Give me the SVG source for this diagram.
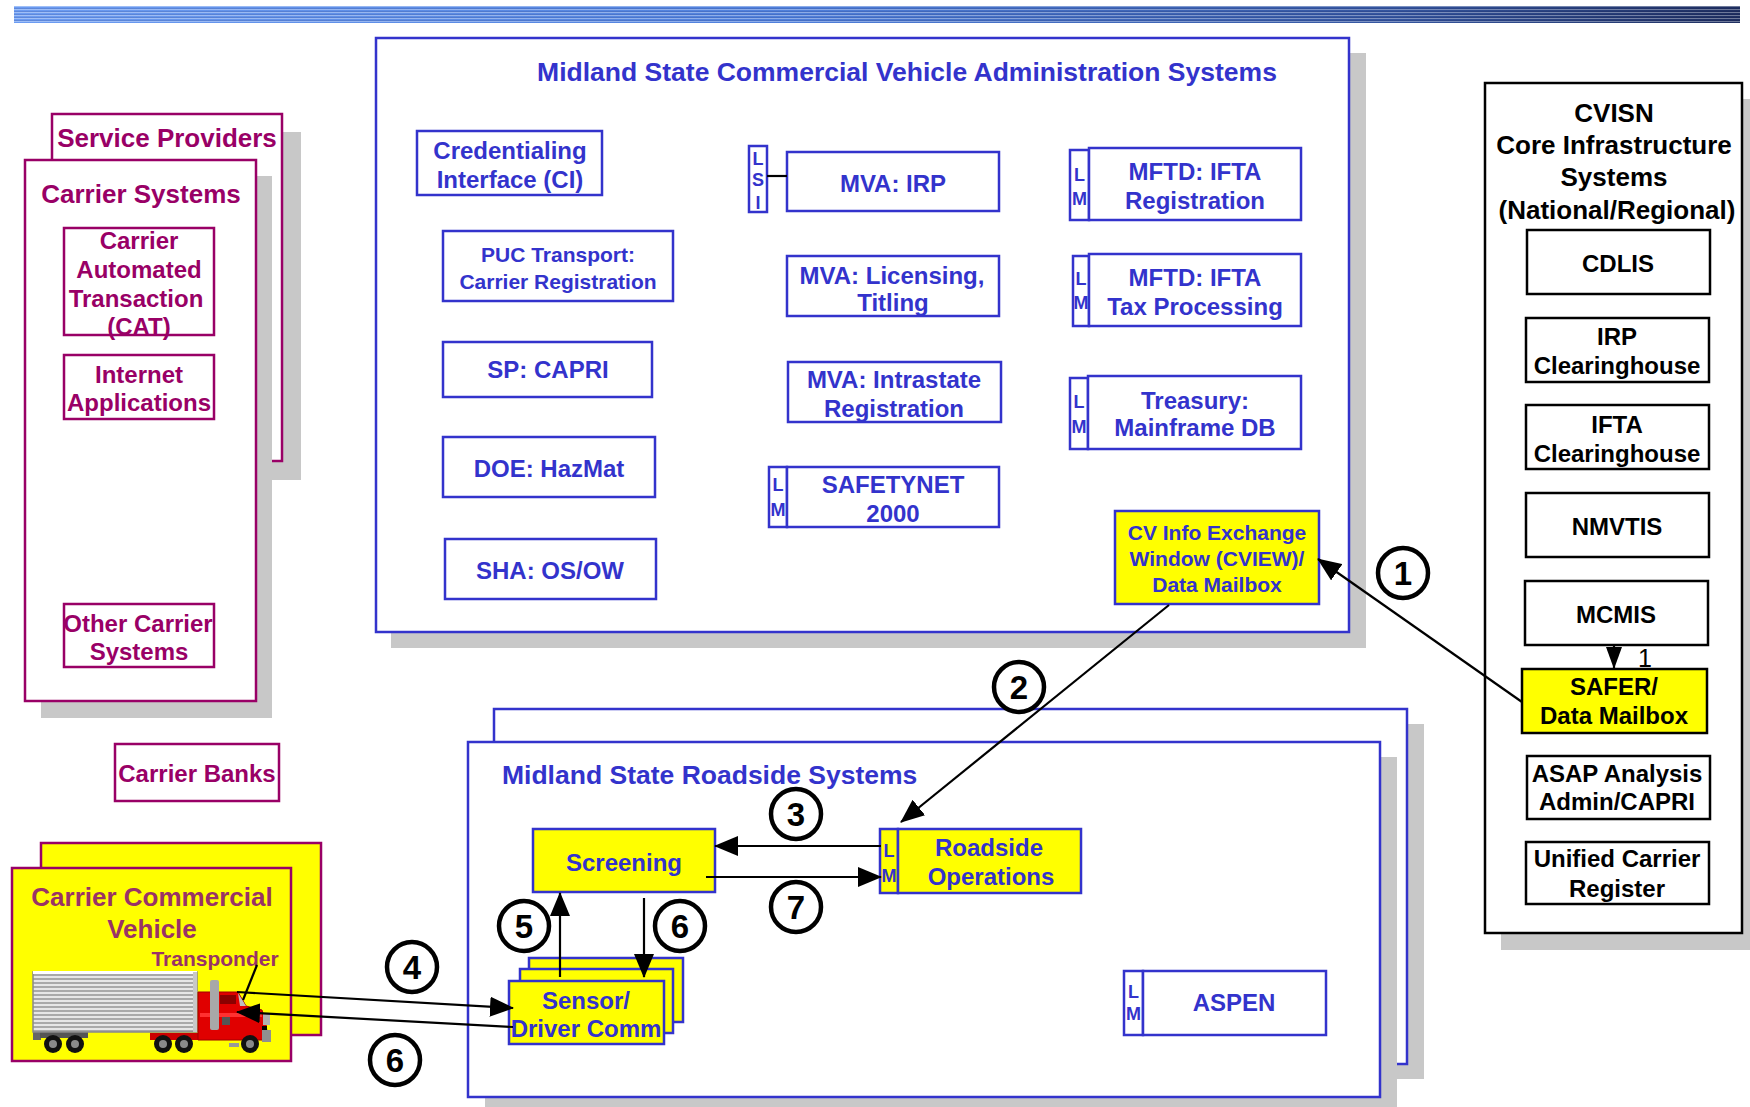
<svg xmlns="http://www.w3.org/2000/svg" width="1750" height="1107" viewBox="0 0 1750 1107">
  <defs>
    <linearGradient id="barGrad" x1="0" y1="0" x2="1" y2="0">
      <stop offset="0" stop-color="#6c9cf2"/>
      <stop offset="0.45" stop-color="#4f7fdb"/>
      <stop offset="0.8" stop-color="#34559f"/>
      <stop offset="1" stop-color="#1f2f60"/>
    </linearGradient>
    <pattern id="barStripes" width="8" height="3" patternUnits="userSpaceOnUse">
      <rect width="8" height="1" fill="#ffffff" fill-opacity="0.35"/>
      <rect y="2" width="8" height="1" fill="#000030" fill-opacity="0.12"/>
    </pattern>
    <pattern id="trailerStripes" width="10" height="4" patternUnits="userSpaceOnUse">
      <rect width="10" height="2" fill="#e6e6e6"/>
      <rect y="2" width="10" height="2" fill="#a9a9a9"/>
    </pattern>
    <marker id="arrow" viewBox="0 0 24 20" refX="23" refY="10" markerWidth="24" markerHeight="20" markerUnits="userSpaceOnUse" orient="auto">
      <path d="M0,0 L24,10 L0,20 z" fill="#000"/>
    </marker>
    <marker id="arrowSmall" viewBox="0 0 22 16" refX="21" refY="8" markerWidth="22" markerHeight="16" markerUnits="userSpaceOnUse" orient="auto">
      <path d="M0,0 L22,8 L0,16 z" fill="#000"/>
    </marker>
  </defs>
  <style>
    text { font-family: "Liberation Sans", Arial, sans-serif; font-weight: bold; }
    .shadow { fill: #c8c8c8; }
    .bbox { fill: #ffffff; stroke: #3333cc; stroke-width: 2.5; }
    .ybox { fill: #ffff00; stroke: #3333cc; stroke-width: 2.5; }
    .mbox { fill: #ffffff; stroke: #990066; stroke-width: 2.5; }
    .mybox { fill: #ffff00; stroke: #990066; stroke-width: 2.5; }
    .kbox { fill: #ffffff; stroke: #000000; stroke-width: 2.5; }
    .kybox { fill: #ffff00; stroke: #000000; stroke-width: 2.5; }
    .bt { font-size: 24px; fill: #3333cc; text-anchor: middle; }
    .bt21 { font-size: 21px; fill: #3333cc; text-anchor: middle; }
    .btitle { font-size: 26.5px; fill: #3333cc; }
    .mt { font-size: 24px; fill: #990066; text-anchor: middle; }
    .mtitle { font-size: 26px; fill: #990066; text-anchor: middle; }
    .vt { fill: #993366; }
    .kt { font-size: 24px; fill: #000000; text-anchor: middle; }
    .ktitle { font-size: 26px; fill: #000000; text-anchor: middle; }
    .lm { font-size: 18px; fill: #3333cc; text-anchor: middle; }
    .num { font-size: 33px; fill: #000000; text-anchor: middle; }
    .ring { fill: #ffffff; stroke: #000000; stroke-width: 4.5; }
    .conn { fill: none; stroke: #000000; stroke-width: 2.2; }
  </style>

  <!-- header bar -->
  <rect x="14" y="6" width="1726" height="17" fill="url(#barGrad)"/>
  <rect x="14" y="6" width="1726" height="17" fill="url(#barStripes)"/>

  <!-- State administration systems -->
  <g id="admin-systems">
    <rect class="shadow" x="391" y="53" width="975" height="595"/>
    <rect class="bbox" x="376" y="38" width="973" height="594"/>
    <text class="btitle" x="907" y="81" text-anchor="middle">Midland State Commercial Vehicle Administration Systems</text>
  </g>
  <g id="credentialing-interface">
    <rect class="bbox" x="417" y="131" width="185" height="64"/>
    <text class="bt" x="510" y="158.5">Credentialing</text>
    <text class="bt" x="510" y="187.5">Interface (CI)</text>
  </g>
  <g id="puc-transport">
    <rect class="bbox" x="443" y="231" width="230" height="70"/>
    <text class="bt21" x="558" y="261.5">PUC Transport:</text>
    <text class="bt21" x="558" y="288.5">Carrier Registration</text>
  </g>
  <g id="sp-capri">
    <rect class="bbox" x="443" y="342" width="209" height="55"/>
    <text class="bt" x="548" y="377.5">SP: CAPRI</text>
  </g>
  <g id="doe-hazmat">
    <rect class="bbox" x="443" y="437" width="212" height="60"/>
    <text class="bt" x="549" y="476.5">DOE: HazMat</text>
  </g>
  <g id="sha-osow">
    <rect class="bbox" x="445" y="539" width="211" height="60"/>
    <text class="bt" x="550" y="578.5">SHA: OS/OW</text>
  </g>
  <g id="lsi">
    <rect class="bbox" x="749" y="146" width="18" height="66"/>
    <text class="lm" x="758" y="165">L</text>
    <text class="lm" x="758" y="186">S</text>
    <text class="lm" x="758" y="209">I</text>
  </g>
  <g id="mva-irp">
    <rect class="bbox" x="787" y="152" width="212" height="59"/>
    <text class="bt" x="893" y="191.5">MVA: IRP</text>
  </g>
  <g id="mva-licensing">
    <rect class="bbox" x="787" y="256" width="212" height="60"/>
    <text class="bt" x="892" y="283.5">MVA: Licensing,</text>
    <text class="bt" x="893" y="310.5">Titling</text>
  </g>
  <g id="mva-intrastate">
    <rect class="bbox" x="788" y="362" width="213" height="60"/>
    <text class="bt" x="894" y="387.5">MVA: Intrastate</text>
    <text class="bt" x="894" y="416.5">Registration</text>
  </g>
  <g id="safetynet">
    <rect class="bbox" x="769" y="467" width="18" height="60"/>
    <text class="lm" x="778" y="491">L</text>
    <text class="lm" x="778" y="516">M</text>
    <rect class="bbox" x="787" y="467" width="212" height="60"/>
    <text class="bt" x="893" y="492.5">SAFETYNET</text>
    <text class="bt" x="893" y="521.5">2000</text>
  </g>
  <g id="mftd-ifta-registration">
    <rect class="bbox" x="1070" y="150" width="19" height="70"/>
    <text class="lm" x="1079.5" y="181">L</text>
    <text class="lm" x="1079.5" y="205">M</text>
    <rect class="bbox" x="1089" y="148" width="212" height="72"/>
    <text class="bt" x="1195" y="179.5">MFTD: IFTA</text>
    <text class="bt" x="1195" y="208.5">Registration</text>
  </g>
  <g id="mftd-ifta-tax">
    <rect class="bbox" x="1073" y="256" width="16" height="70"/>
    <text class="lm" x="1081" y="285">L</text>
    <text class="lm" x="1081" y="309">M</text>
    <rect class="bbox" x="1089" y="254" width="212" height="72"/>
    <text class="bt" x="1195" y="285.5">MFTD: IFTA</text>
    <text class="bt" x="1195" y="314.5">Tax Processing</text>
  </g>
  <g id="treasury">
    <rect class="bbox" x="1070" y="378" width="18" height="71"/>
    <text class="lm" x="1079" y="408">L</text>
    <text class="lm" x="1079" y="433">M</text>
    <rect class="bbox" x="1088" y="376" width="213" height="73"/>
    <text class="bt" x="1195" y="408.5">Treasury:</text>
    <text class="bt" x="1195" y="435.5">Mainframe DB</text>
  </g>
  <g id="cview">
    <rect class="ybox" x="1115" y="511" width="204" height="93"/>
    <text class="bt21" x="1217" y="539.5">CV Info Exchange</text>
    <text class="bt21" x="1217" y="565.5">Window (CVIEW)/</text>
    <text class="bt21" x="1217" y="591.5">Data Mailbox</text>
  </g>

  <!-- Carrier side -->
  <g id="service-providers">
    <rect class="shadow" x="70" y="132" width="231" height="348"/>
    <rect class="mbox" x="52" y="114" width="230" height="347"/>
    <text class="mtitle" x="167" y="147">Service Providers</text>
  </g>
  <g id="carrier-systems">
    <rect class="shadow" x="41" y="176" width="231" height="542"/>
    <rect class="mbox" x="25" y="160" width="231" height="541"/>
    <text class="mtitle" x="141" y="203">Carrier Systems</text>
  </g>
  <g id="cat">
    <rect class="mbox" x="64" y="228" width="150" height="107"/>
    <text class="mt" x="139" y="248.5">Carrier</text>
    <text class="mt" x="139" y="277.5">Automated</text>
    <text class="mt" x="136" y="306.5">Transaction</text>
    <text class="mt" x="139" y="334.5">(CAT)</text>
  </g>
  <g id="internet-applications">
    <rect class="mbox" x="64" y="355" width="150" height="64"/>
    <text class="mt" x="139" y="382.5">Internet</text>
    <text class="mt" x="139" y="410.5">Applications</text>
  </g>
  <g id="other-carrier-systems">
    <rect class="mbox" x="64" y="604" width="150" height="63"/>
    <text class="mt" x="138" y="631.5">Other Carrier</text>
    <text class="mt" x="139" y="659.5">Systems</text>
  </g>
  <g id="carrier-banks">
    <rect class="mbox" x="115" y="744" width="164" height="57"/>
    <text class="mt" x="197" y="781.5">Carrier Banks</text>
  </g>
  <g id="carrier-vehicle">
    <rect class="mybox" x="41" y="843" width="280" height="192"/>
    <rect class="mybox" x="12" y="868" width="279" height="193"/>
    <text class="mtitle vt" x="152" y="906">Carrier Commercial</text>
    <text class="mtitle vt" x="152" y="938">Vehicle</text>
    <text class="vt" x="215" y="966" font-size="21" text-anchor="middle">Transponder</text>
    <!-- tractor-trailer -->
    <g id="truck">
      <rect x="33" y="1029" width="8" height="11" fill="#666"/>
      <rect x="40" y="1032" width="48" height="6" fill="#555"/>
      <rect x="33" y="972" width="164" height="60" fill="url(#trailerStripes)" stroke="#8a8a8a" stroke-width="1.5"/>
      <rect x="33" y="971" width="164" height="3" fill="#ffffff"/>
      <rect x="193" y="972" width="4" height="60" fill="#c8c8c8"/>
      <rect x="150" y="1033" width="60" height="7" fill="#cc0000"/>
      <path d="M198,992 L238,992 L246,1006 L262,1010 L266,1024 L268,1040 L198,1040 Z" fill="#e00000" stroke="#a00000" stroke-width="1"/>
      <rect x="200" y="1013" width="62" height="4" fill="#ff3030"/>
      <rect x="220" y="995" width="16" height="9" fill="#8a0000"/>
      <path d="M238,993 L246,1006 L240,1006 Z" fill="#c0c0c0"/>
      <rect x="222" y="1017" width="8" height="8" fill="#555"/>
      <rect x="263" y="1013" width="7" height="12" fill="#b0b0b0"/>
      <rect x="262" y="1030" width="9" height="12" fill="#909090"/>
      <rect x="262" y="1026" width="5" height="4" fill="#000"/>
      <rect x="229" y="1043" width="10" height="4" fill="#999"/>
      <rect x="210" y="980" width="9" height="50" rx="2" fill="#a8a8a8"/>
      <g fill="#111">
        <circle cx="53" cy="1044" r="9"/>
        <circle cx="75" cy="1044" r="9"/>
        <circle cx="163" cy="1044" r="9"/>
        <circle cx="184" cy="1044" r="9"/>
        <circle cx="250" cy="1044" r="9"/>
      </g>
      <g fill="#8a8a8a">
        <circle cx="53" cy="1044" r="4"/>
        <circle cx="75" cy="1044" r="4"/>
        <circle cx="163" cy="1044" r="4"/>
        <circle cx="184" cy="1044" r="4"/>
        <circle cx="250" cy="1044" r="4"/>
      </g>
    </g>
    <line x1="257" y1="965" x2="243" y2="1000" stroke="#000" stroke-width="2.2"/>
  </g>

  <!-- Roadside systems -->
  <g id="roadside-systems">
    <rect class="shadow" x="511" y="724" width="913" height="355"/>
    <rect class="bbox" x="494" y="709" width="913" height="355"/>
    <rect class="shadow" x="485" y="757" width="912" height="355"/>
    <rect class="bbox" x="468" y="742" width="912" height="355"/>
    <text class="btitle" x="502" y="784">Midland State Roadside Systems</text>
  </g>
  <g id="screening">
    <rect class="ybox" x="533" y="829" width="182" height="63"/>
    <text class="bt" x="624" y="870.5">Screening</text>
  </g>
  <g id="roadside-operations">
    <rect class="ybox" x="880" y="829" width="18" height="64"/>
    <text class="lm" x="889" y="857">L</text>
    <text class="lm" x="889" y="882">M</text>
    <rect class="ybox" x="898" y="829" width="183" height="64"/>
    <text class="bt" x="989" y="855.5">Roadside</text>
    <text class="bt" x="991" y="884.5">Operations</text>
  </g>
  <g id="sensor-driver-comm">
    <rect class="ybox" x="529" y="958" width="154" height="64"/>
    <rect class="ybox" x="520" y="969" width="153" height="64"/>
    <rect class="ybox" x="509" y="981" width="155" height="63"/>
    <text class="bt" x="586" y="1008.5">Sensor/</text>
    <text class="bt" x="586" y="1036.5">Driver Comm</text>
  </g>
  <g id="aspen">
    <rect class="bbox" x="1124" y="971" width="19" height="64"/>
    <text class="lm" x="1133.5" y="998">L</text>
    <text class="lm" x="1133.5" y="1020">M</text>
    <rect class="bbox" x="1143" y="971" width="183" height="64"/>
    <text class="bt" x="1234" y="1010.5">ASPEN</text>
  </g>

  <!-- National / regional infrastructure -->
  <g id="cvisn">
    <rect class="shadow" x="1501" y="99" width="249" height="851"/>
    <rect class="kbox" x="1485" y="83" width="257" height="850"/>
    <text class="ktitle" x="1614" y="122">CVISN</text>
    <text class="ktitle" x="1614" y="154">Core Infrastructure</text>
    <text class="ktitle" x="1614" y="186">Systems</text>
    <text class="ktitle" x="1617" y="219">(National/Regional)</text>
  </g>
  <g id="cdlis">
    <rect class="kbox" x="1527" y="230" width="183" height="64"/>
    <text class="kt" x="1618" y="271.5">CDLIS</text>
  </g>
  <g id="irp-clearinghouse">
    <rect class="kbox" x="1526" y="318" width="183" height="64"/>
    <text class="kt" x="1617" y="344.5">IRP</text>
    <text class="kt" x="1617" y="373.5">Clearinghouse</text>
  </g>
  <g id="ifta-clearinghouse">
    <rect class="kbox" x="1526" y="405" width="183" height="64"/>
    <text class="kt" x="1617" y="432.5">IFTA</text>
    <text class="kt" x="1617" y="461.5">Clearinghouse</text>
  </g>
  <g id="nmvtis">
    <rect class="kbox" x="1526" y="493" width="183" height="64"/>
    <text class="kt" x="1617" y="534.5">NMVTIS</text>
  </g>
  <g id="mcmis">
    <rect class="kbox" x="1525" y="581" width="183" height="64"/>
    <text class="kt" x="1616" y="622.5">MCMIS</text>
  </g>
  <g id="safer">
    <rect class="kybox" x="1522" y="669" width="185" height="64"/>
    <text class="kt" x="1614" y="694.5">SAFER/</text>
    <text class="kt" x="1614" y="723.5">Data Mailbox</text>
  </g>
  <g id="asap">
    <rect class="kbox" x="1527" y="756" width="183" height="63"/>
    <text class="kt" x="1617" y="781.5">ASAP Analysis</text>
    <text class="kt" x="1617" y="809.5">Admin/CAPRI</text>
  </g>
  <g id="unified-carrier-register">
    <rect class="kbox" x="1526" y="842" width="183" height="62"/>
    <text class="kt" x="1617" y="866.5">Unified Carrier</text>
    <text class="kt" x="1617" y="896.5">Register</text>
  </g>

  <!-- connectors and step numbers -->
  <g id="connectors">
    <line class="conn" x1="767" y1="176" x2="787" y2="176"/>
    <line class="conn" x1="1614" y1="645" x2="1614" y2="668" marker-end="url(#arrowSmall)"/>
    <text x="1645" y="667" font-size="25" text-anchor="middle" style="font-weight:normal">1</text>

    <line class="conn" x1="1522" y1="702" x2="1318" y2="559" marker-end="url(#arrow)"/>
    <line class="conn" x1="1169" y1="605" x2="901" y2="822" marker-end="url(#arrow)"/>
    <line class="conn" x1="881" y1="846" x2="715" y2="846" marker-end="url(#arrow)"/>
    <line class="conn" x1="706" y1="877" x2="881" y2="877" marker-end="url(#arrow)"/>
    <line class="conn" x1="560" y1="977" x2="560" y2="893" marker-end="url(#arrow)"/>
    <line class="conn" x1="644" y1="898" x2="644" y2="977" marker-end="url(#arrow)"/>
    <line class="conn" x1="237" y1="992" x2="513" y2="1008" marker-end="url(#arrow)"/>
    <line class="conn" x1="513" y1="1027" x2="237" y2="1012" marker-end="url(#arrow)"/>

    <g id="step-1"><circle class="ring" cx="1403" cy="573" r="25"/><text class="num" x="1403" y="585">1</text></g>
    <g id="step-2"><circle class="ring" cx="1019" cy="687" r="25"/><text class="num" x="1019" y="699">2</text></g>
    <g id="step-3"><circle class="ring" cx="796" cy="814" r="25"/><text class="num" x="796" y="826">3</text></g>
    <g id="step-7"><circle class="ring" cx="796" cy="907" r="25"/><text class="num" x="796" y="919">7</text></g>
    <g id="step-5"><circle class="ring" cx="524" cy="926" r="25"/><text class="num" x="524" y="938">5</text></g>
    <g id="step-6a"><circle class="ring" cx="680" cy="926" r="25"/><text class="num" x="680" y="938">6</text></g>
    <g id="step-4"><circle class="ring" cx="412" cy="967" r="25"/><text class="num" x="412" y="979">4</text></g>
    <g id="step-6b"><circle class="ring" cx="395" cy="1060" r="25"/><text class="num" x="395" y="1072">6</text></g>
  </g>
</svg>
